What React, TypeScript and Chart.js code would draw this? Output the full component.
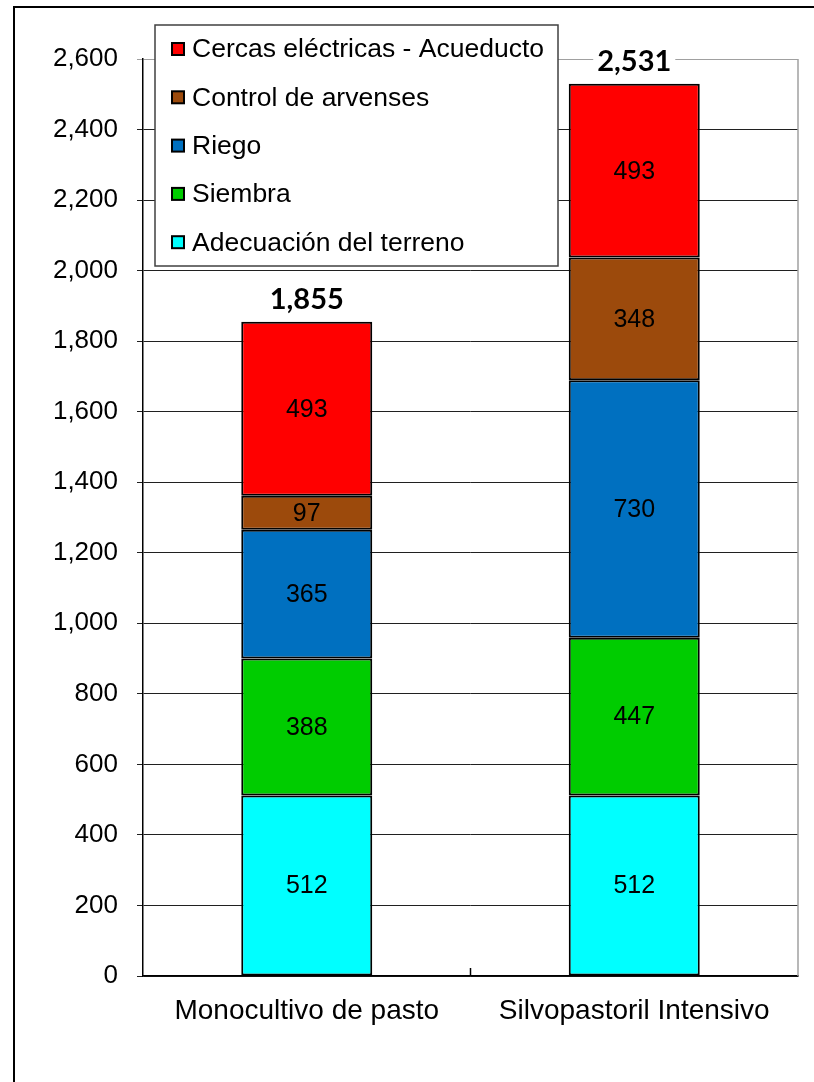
import React, { useEffect, useRef } from "react";
import { Chart, registerables } from "chart.js";

Chart.register(...registerables);

const categories = ["Monocultivo de pasto", "Silvopastoril Intensivo"];
const seriesNames = [
  "Adecuación del terreno",
  "Siembra",
  "Riego",
  "Control de arvenses",
  "Cercas eléctricas - Acueducto",
];
const adecuacion = [512, 512];
const siembra = [388, 447];
const riego = [365, 730];
const control = [97, 348];
const cercas = [493, 493];
const totals = [1855, 2531];
const seriesColors = ["#00FFFF", "#00CC00", "#0070C0", "#9C4A0C", "#FF0000"];
const yMax = 2600;
const yStep = 200;

const FONT = "'Liberation Sans', Arial, sans-serif";

const fmt = (v: number) => v.toLocaleString("en-US");

const decorPlugin = {
  id: "decor",
  beforeDraw(chart: any) {
    const { ctx, width, height } = chart;
    ctx.save();
    ctx.fillStyle = "#ffffff";
    ctx.fillRect(0, 0, width, height);
    ctx.strokeStyle = "#000000";
    ctx.lineWidth = 2;
    ctx.strokeRect(14, 7, width + 40, height + 40);
    ctx.restore();
  },
  afterDraw(chart: any) {
    const { ctx, chartArea } = chart;
    ctx.save();
    ctx.strokeStyle = "#A0A0A0";
    ctx.lineWidth = 1.5;
    ctx.beginPath();
    ctx.moveTo(chartArea.right, chartArea.top);
    ctx.lineTo(chartArea.right, chartArea.bottom);
    ctx.stroke();
    const xs = chart.scales.x;
    ctx.strokeStyle = "#000000";
    ctx.lineWidth = 1.5;
    for (let i = 1; i < categories.length; i++) {
      const bx = (xs.getPixelForTick(i - 1) + xs.getPixelForTick(i)) / 2;
      ctx.beginPath();
      ctx.moveTo(bx, chartArea.bottom);
      ctx.lineTo(bx, chartArea.bottom - 8);
      ctx.stroke();
    }
    ctx.fillStyle = "#000000";
    ctx.font = `25px ${FONT}`;
    ctx.textAlign = "center";
    ctx.textBaseline = "middle";
    chart.data.datasets.forEach((ds: any, di: number) => {
      const meta = chart.getDatasetMeta(di);
      meta.data.forEach((el: any, i: number) => {
        const y = (el.y + el.base) / 2;
        ctx.fillText(fmt(ds.data[i]), el.x, y + 1);
      });
    });
    const topMeta = chart.getDatasetMeta(chart.data.datasets.length - 1);
    ctx.font = `bold 29px Lato, 'Open Sans', sans-serif`;
    topMeta.data.forEach((el: any, i: number) => {
      const t = fmt(totals[i]);
      const w = ctx.measureText(t).width;
      const cy = el.y - 22;
      ctx.fillStyle = "#ffffff";
      ctx.fillRect(el.x - w / 2 - 4, cy - 14, w + 8, 28);
      ctx.fillStyle = "#000000";
      ctx.fillText(t, el.x, cy);
    });
    const lx = 155, ly = 25, lw = 403, lh = 241;
    ctx.fillStyle = "#ffffff";
    ctx.fillRect(lx, ly, lw, lh);
    ctx.strokeStyle = "#404040";
    ctx.lineWidth = 1.5;
    ctx.strokeRect(lx, ly, lw, lh);
    ctx.font = `26.5px ${FONT}`;
    ctx.textAlign = "left";
    ctx.textBaseline = "middle";
    const n = seriesNames.length;
    for (let k = 0; k < n; k++) {
      const idx = n - 1 - k;
      const cy = 49 + k * 48.3;
      ctx.fillStyle = seriesColors[idx];
      ctx.fillRect(172, cy - 6, 12, 12);
      ctx.strokeStyle = "#000000";
      ctx.lineWidth = 2;
      ctx.strokeRect(172, cy - 6, 12, 12);
      ctx.fillStyle = "#000000";
      ctx.fillText(seriesNames[idx], 192, cy + 1);
    }
    ctx.restore();
  },
};

export default function App() {
  const ref = useRef<HTMLCanvasElement | null>(null);
  useEffect(() => {
    if (!ref.current) return;
    const values = [adecuacion, siembra, riego, control, cercas];
    const chart = new Chart(ref.current, {
      type: "bar",
      data: {
        labels: categories,
        datasets: values.map((d, i) => ({
          label: seriesNames[i],
          data: d,
          backgroundColor: seriesColors[i],
          borderColor: "#000000",
          borderWidth: 2,
          borderSkipped: false,
          barPercentage: 0.4,
          categoryPercentage: 1,
        })),
      },
      options: {
        responsive: false,
        animation: false,
        devicePixelRatio: 1,
        layout: { padding: { top: 59, right: 16, left: 0, bottom: 0 } },
        plugins: {
          legend: { display: false },
          tooltip: { enabled: false },
        },
        scales: {
          x: {
            stacked: true,
            grid: { display: false, drawTicks: false },
            border: { display: true, color: "#000000", width: 1.5 },
            ticks: {
              color: "#000000",
              font: { family: FONT, size: 28 },
              padding: 18,
              maxRotation: 0,
            },
            afterFit: (s: any) => {
              s.height = 106;
            },
          },
          y: {
            stacked: true,
            min: 0,
            max: yMax,
            grid: {
              color: (c: any) => (c.tick && c.tick.value === yMax ? "#A0A0A0" : "#202020"),
              lineWidth: 1,
              drawTicks: true,
              tickLength: 6,
            },
            border: { display: true, color: "#000000", width: 1.5 },
            ticks: {
              stepSize: yStep,
              color: "#000000",
              font: { family: FONT, size: 26 },
              padding: 19,
              callback: (v: any) => fmt(Number(v)),
            },
            afterFit: (s: any) => {
              s.width = 143;
            },
          },
        },
      },
      plugins: [decorPlugin],
    });
    return () => chart.destroy();
  }, []);
  return (
    <div style={{ position: "absolute", left: 0, top: 0, width: 814, height: 1082 }}>
      <canvas ref={ref} width={814} height={1082} style={{ display: "block" }} />
    </div>
  );
}
